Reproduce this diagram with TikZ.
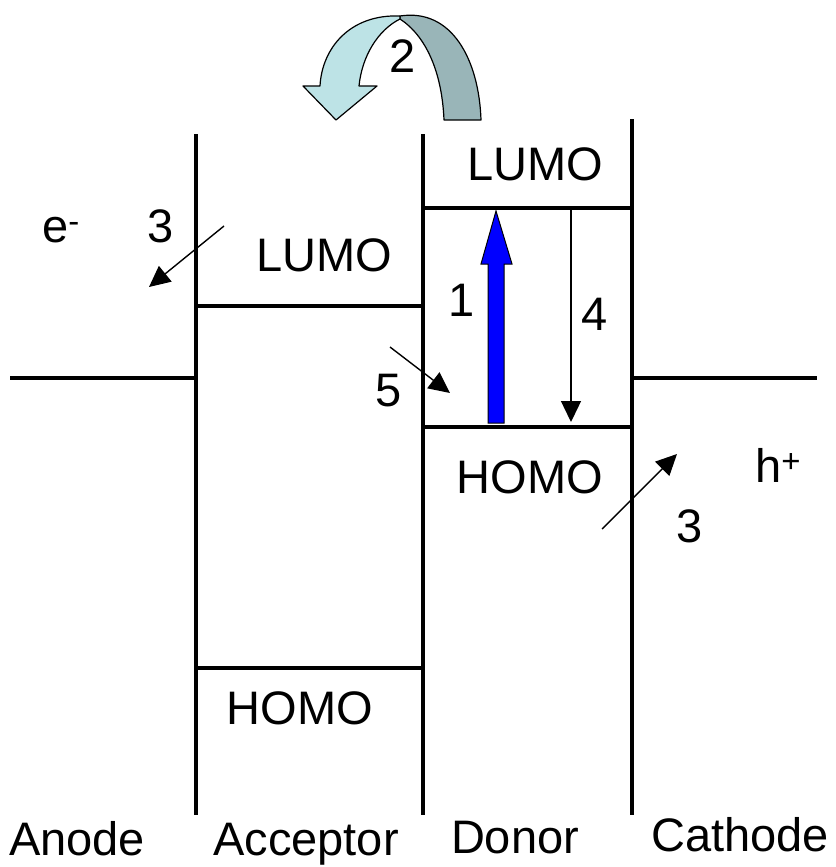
\documentclass[tikz,border=0pt]{standalone}
\usepackage{fontspec}
\setmainfont{Liberation Sans}
\usetikzlibrary{arrows.meta}
\definecolor{lightband}{HTML}{BDE3E6}
\definecolor{darkband}{HTML}{99B5B8}
\tikzset{
  level/.style={line width=4.8pt, line cap=rect},
  thinarrow/.style={line width=1.4pt, -{Triangle[length=21pt,width=20pt]}},
  lbl/.style={font=\fontsize{47}{56}\selectfont, inner sep=0pt, anchor=base},
}
\begin{document}
\begin{tikzpicture}[x=1pt,y=-1pt]
\useasboundingbox (0,0) rectangle (835,867);
% vertical walls
\draw[level] (196,136) -- (196,813);
\draw[level] (423,136) -- (423,813);
\draw[level] (632,121) -- (632,813);
% electrode levels
\draw[level] (12,378) -- (196,378);
\draw[level] (632,378) -- (815,378);
% acceptor levels
\draw[level] (196,306) -- (423,306);
\draw[level] (196,668) -- (423,668);
% donor levels
\draw[level] (423,208) -- (632,208);
\draw[level] (423,427) -- (632,427);
% curved arrow 2
\draw[fill=darkband, line width=1.2pt, line join=round]
  (400,16) .. controls (452,8) and (479,60) .. (481,120) -- (444,120)
  .. controls (442,72) and (426,36) .. (400,19) -- cycle;
\draw[fill=lightband, line width=1.2pt, line join=round]
  (400,16) .. controls (350,14) and (322,48) .. (320,86) -- (303,86) -- (336,120) -- (377,86) -- (359,86)
  .. controls (362,56) and (378,30) .. (400,19) -- cycle;
\node[lbl] (n2) at (403,73) {2};
% blue arrow 1
\draw[fill=blue, line width=1pt, line join=miter]
  (488,423) -- (488,264) -- (481,264) -- (496,211) -- (512,264) -- (504,264) -- (504,423) -- cycle;
% arrow 4
\coordinate (a4s) at (571,210);
\coordinate (a4e) at (571,422);
\draw[thinarrow] (a4s) -- (a4e);
% arrow 5
\coordinate (a5s) at (390,347);
\coordinate (a5e) at (450,393);
\draw[thinarrow] (a5s) -- (a5e);
% arrow 3 left
\coordinate (a3ls) at (224,226);
\coordinate (a3le) at (149,287);
\draw[thinarrow] (a3ls) -- (a3le);
% arrow 3 right
\coordinate (a3rs) at (602,529);
\coordinate (a3re) at (677,454);
\draw[thinarrow] (a3rs) -- (a3re);
% labels
\node[lbl] (dlumo) at (535,180) {LUMO};
\node[lbl] (alumo) at (324,271) {LUMO};
\node[lbl] (dhomo) at (530,493) {HOMO};
\node[lbl] (ahomo) at (300,724) {HOMO};
\node[lbl] (n1) at (462,316) {1};
\node[lbl] (n4) at (595,330) {4};
\node[lbl] (n5) at (389,406) {5};
\node[lbl] (n3l) at (161,242) {3};
\node[lbl] (n3r) at (690,542) {3};
\node[lbl, anchor=base west] (el) at (42,242) {e\textsuperscript{-}};
\node[lbl, anchor=base west] (ho) at (755,482) {h\textsuperscript{+}};
\node[lbl] (anode) at (77,855) {Anode};
\node[lbl] (acc) at (306,855) {Acceptor};
\node[lbl] (don) at (515,853) {Donor};
\node[lbl] (cat) at (740,851) {Cathode};
\end{tikzpicture}
\end{document}
